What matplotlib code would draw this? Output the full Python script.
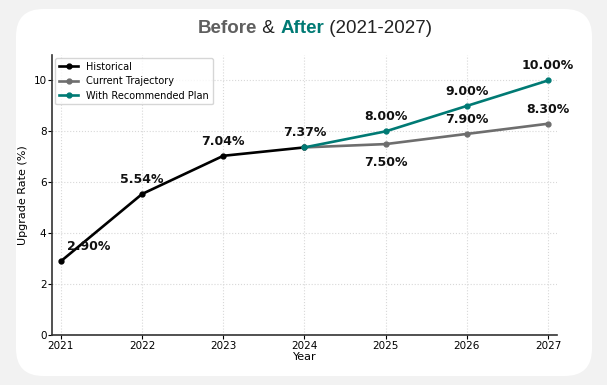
import matplotlib.pyplot as plt
from matplotlib.patches import FancyBboxPatch

# data
hist_years = [2021, 2022, 2023, 2024]
hist_vals = [2.90, 5.54, 7.04, 7.37]
cur_years = [2024, 2025, 2026, 2027]
cur_vals = [7.37, 7.50, 7.90, 8.30]
rec_years = [2024, 2025, 2026, 2027]
rec_vals = [7.37, 8.00, 9.00, 10.00]

black = '#000000'
gray = '#6e6e6e'
teal = '#007a74'

fig = plt.figure(figsize=(6.07, 3.85), dpi=100)
fig.patch.set_facecolor('#f2f2f2')
card = FancyBboxPatch((16 / 607, 9 / 385), 576 / 607, 367 / 385,
                      boxstyle='round,pad=0,rounding_size=0.045',
                      transform=fig.transFigure, facecolor='white',
                      edgecolor='none', mutation_aspect=607 / 385, zorder=-10)
fig.patches.append(card)

# title in pieces
tfont = dict(family='Liberation Sans', fontsize=13.5)
parts = [('Before', '#5f5f5f', 'bold'), (' & ', '#222222', 'normal'),
         ('After', teal, 'bold'), (' (2021-2027)', '#222222', 'normal')]
r = fig.canvas.get_renderer()
texts = []
for s, c, w in parts:
    t = fig.text(0, 0, s, color=c, fontweight=w, **tfont)
    texts.append(t)
widths = [t.get_window_extent(r).width for t in texts]
x = 315 - sum(widths) / 2
for t, wd in zip(texts, widths):
    t.set_position((x / 607, 1 - 33 / 385))
    x += wd

ax = fig.add_axes([52 / 607, 50 / 385, 505 / 607, 280 / 385])
ax.set_facecolor('white')
ax.plot(hist_years, hist_vals, color=black, lw=1.9, marker='o', ms=3.5, label='Historical', zorder=3)
ax.plot(cur_years, cur_vals, color=gray, lw=1.9, marker='o', ms=3.5, label='Current Trajectory', zorder=3)
ax.plot(rec_years, rec_vals, color=teal, lw=1.9, marker='o', ms=3.5, label='With Recommended Plan', zorder=3)

ax.set_xlim(2020.89, 2027.11)
ax.set_ylim(0, 11)
ax.set_xticks(range(2021, 2028))
ax.set_yticks([0, 2, 4, 6, 8, 10])
ax.grid(True, linestyle=':', color='#d8d8d8', lw=0.8)
for s in ['top', 'right']:
    ax.spines[s].set_visible(False)
for s in ['left', 'bottom']:
    ax.spines[s].set_color('#333333')
    ax.spines[s].set_linewidth(1.2)
ax.tick_params(labelsize=7.5, length=3, pad=1)
ax.set_xlabel('Year', fontsize=8, labelpad=1)
ax.set_ylabel('Upgrade Rate (%)', fontsize=8)

lbl = dict(fontsize=9, fontweight='bold', color='#111111', ha='center')
ax.annotate(f'{hist_vals[0]:.2f}%', (hist_years[0], hist_vals[0]), xytext=(20, 8),
            textcoords='offset points', **lbl)
for xv, yv in zip(hist_years[1:], hist_vals[1:]):
    ax.annotate(f'{yv:.2f}%', (xv, yv), xytext=(0, 8), textcoords='offset points', **lbl)
for xv, yv in zip(rec_years[1:], rec_vals[1:]):
    ax.annotate(f'{yv:.2f}%', (xv, yv), xytext=(0, 8), textcoords='offset points', **lbl)
ax.annotate(f'{cur_vals[1]:.2f}%', (cur_years[1], cur_vals[1]), xytext=(0, -16),
            textcoords='offset points', **lbl)
for xv, yv in zip(cur_years[2:], cur_vals[2:]):
    ax.annotate(f'{yv:.2f}%', (xv, yv), xytext=(0, 8), textcoords='offset points', **lbl)

ax.legend(loc='upper left', fontsize=7, frameon=True, handlelength=2.0,
          borderpad=0.4, labelspacing=0.45, borderaxespad=0.3,
          bbox_to_anchor=(0.0, 1.0))

fig.savefig('out.png', dpi=100, facecolor=fig.get_facecolor())
